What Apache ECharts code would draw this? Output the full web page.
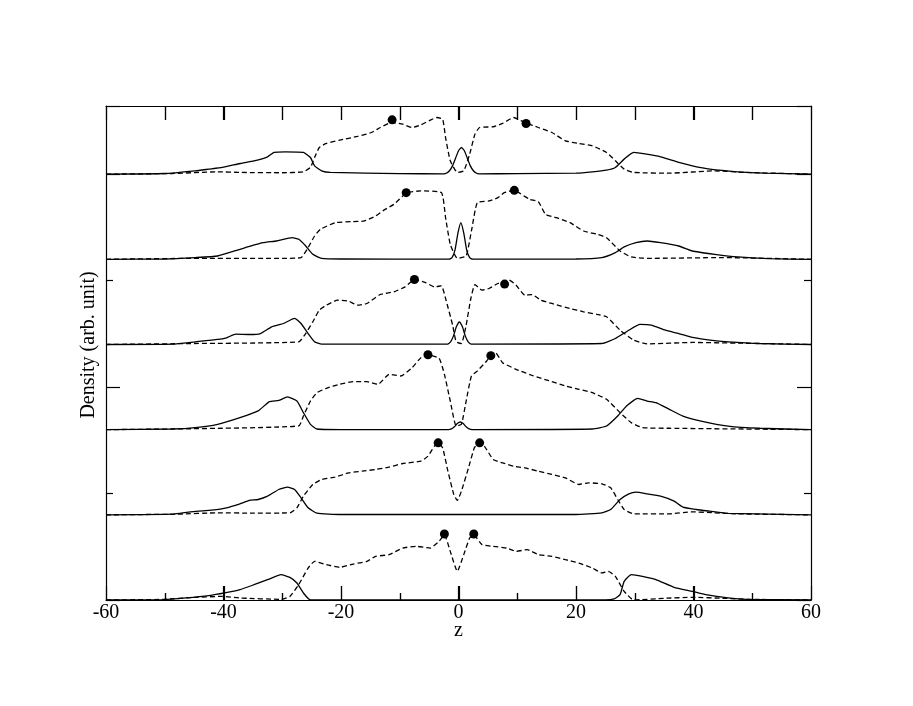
<!DOCTYPE html>
<html><head><meta charset="utf-8">
<script src="https://cdn.jsdelivr.net/npm/echarts@6/dist/echarts.min.js"></script>
<style>html,body{margin:0;padding:0;background:#fff}#c{width:913px;height:706px}</style>
</head><body><div id="c"></div>
<script>
// Panel offsets (top to bottom)
const offsets = [4.0, 3.2, 2.4, 1.6, 0.8, 0.0];

// Tick values of the z axis
const zMajorTicks = [-40, -20, 0, 20, 40];
const zMinorTicks = [-50, -30, -10, 10, 30, 50];
const zTopTicks = [-50, -40, -30, -20, -10, 0, 10, 20, 30, 40, 50];

// Solid curves [z, density]
const solid1 = [[-60,0],[-50,0.006],[-44.8,0.031],[-42.5,0.047],[-40.2,0.063],[-37.2,0.1],[-34.8,0.125],[-32.5,0.163],[-31.4,0.204],[-29.5,0.21],[-26.4,0.204],[-25.2,0.156],[-24.5,0.078],[-23.3,0.031],[-21.8,0.016],[-10,0.005],[-2.5,0.003],[-2,0.011],[-1.5,0.034],[-1,0.08],[-0.5,0.15],[0,0.22],[0.5,0.25],[1,0.22],[1.5,0.15],[2,0.08],[2.5,0.034],[3,0.011],[3.5,0.003],[10,0.005],[20,0.01],[22.8,0.022],[25.2,0.038],[26.7,0.063],[28.2,0.141],[29.8,0.204],[32,0.188],[34.4,0.163],[37.5,0.11],[39.8,0.078],[42.8,0.047],[47.5,0.022],[52,0.009],[60,0]];
const solid2 = [[-60,0],[-50,0.003],[-44.8,0.016],[-41,0.031],[-37.2,0.094],[-33.3,0.156],[-31,0.172],[-28.3,0.203],[-27.2,0.188],[-26,0.125],[-24.8,0.047],[-23.3,0.009],[-20,0.003],[-1.6,0.002],[-1.1,0.015],[-0.6,0.086],[-0.1,0.245],[0.4,0.344],[0.9,0.245],[1.4,0.086],[1.9,0.015],[2.4,0.002],[20,0.003],[24.4,0.016],[26.7,0.063],[28.2,0.116],[30.2,0.156],[32.1,0.172],[34.4,0.156],[37.5,0.125],[39.8,0.078],[43.6,0.047],[47.5,0.022],[52.8,0.006],[60,0]];
const solid3 = [[-60,0],[-48.7,0.003],[-44.8,0.025],[-41,0.047],[-39.5,0.063],[-37.9,0.097],[-35.6,0.094],[-33.7,0.103],[-31.8,0.166],[-29.8,0.197],[-27.9,0.245],[-26.8,0.197],[-25.6,0.103],[-24.5,0.025],[-23.3,0.003],[-1.85,0.004],[-1.35,0.024],[-0.85,0.081],[-0.35,0.168],[0.15,0.213],[0.65,0.168],[1.15,0.081],[1.65,0.024],[2.15,0.004],[24.4,0.009],[26.7,0.056],[29,0.134],[30.9,0.188],[32.8,0.182],[35.2,0.134],[37.5,0.103],[39.8,0.066],[42.8,0.041],[45.9,0.025],[51.3,0.009],[60,0]];
const solid4 = [[-60,0],[-48.7,0.006],[-44.8,0.019],[-41,0.05],[-37.2,0.113],[-34.1,0.176],[-32.2,0.263],[-30.6,0.275],[-29.1,0.307],[-27.5,0.269],[-26.4,0.16],[-25.2,0.05],[-24.1,0.006],[-20,0.001],[-1.7,0.001],[-1.2,0.008],[-0.7,0.027],[-0.2,0.057],[0.3,0.072],[0.8,0.057],[1.3,0.027],[1.8,0.008],[2.3,0.001],[22.8,0.006],[25.2,0.034],[27.1,0.128],[28.6,0.222],[30.5,0.294],[32.1,0.269],[33.6,0.254],[35.9,0.191],[38.2,0.128],[41.3,0.081],[45.9,0.034],[51.3,0.013],[60,0]];
const solid5 = [[-60,0],[-48.7,0.006],[-45.6,0.028],[-42.5,0.041],[-39.5,0.066],[-37.2,0.103],[-35.6,0.135],[-34.1,0.144],[-32.5,0.175],[-30.6,0.238],[-29.1,0.26],[-27.9,0.238],[-26.8,0.16],[-25.6,0.066],[-24.1,0.016],[-20,0.003],[20,0.003],[24.4,0.019],[25.9,0.05],[27.5,0.144],[29,0.197],[30.2,0.213],[32.1,0.197],[34.4,0.175],[36.7,0.128],[38.2,0.072],[40.5,0.05],[42.8,0.034],[45.9,0.013],[60,0]];
const solid6 = [[-60,0],[-50.2,0.003],[-46.4,0.019],[-42.5,0.041],[-39.8,0.066],[-37.2,0.097],[-34.8,0.144],[-32.5,0.191],[-30.2,0.238],[-28.7,0.213],[-27.5,0.16],[-26.4,0.066],[-25.2,0],[25,0],[26.5,0.01],[27.5,0.05],[28.2,0.175],[29.4,0.238],[31.3,0.222],[33.6,0.191],[36.7,0.119],[39.8,0.081],[42.1,0.05],[45.9,0.019],[49,0.006],[60,0]];

// Dashed curves [z, density]
const dashed1 = [[-60,0],[-48.7,0.006],[-41,0.022],[-37,0.016],[-30,0.013],[-26.4,0.022],[-25.2,0.063],[-24.5,0.156],[-23.7,0.25],[-22.5,0.288],[-20.2,0.319],[-17.2,0.354],[-14.8,0.391],[-13.3,0.438],[-11.4,0.485],[-9.5,0.469],[-7.9,0.438],[-6.4,0.463],[-4.8,0.507],[-3.7,0.532],[-2.7,0.516],[-2.2,0.344],[-1.4,0.125],[-0.2,0.016],[0.9,0.031],[1.9,0.188],[2.8,0.376],[3.6,0.438],[5.9,0.445],[7.5,0.476],[9.4,0.532],[11.3,0.485],[13.6,0.438],[15.9,0.391],[18.2,0.313],[20.5,0.288],[22.8,0.266],[25.2,0.204],[26.7,0.125],[28.2,0.047],[29.8,0.016],[35.9,0.009],[43.6,0.031],[49,0.016],[60,0]];
const dashed2 = [[-60,0],[-45,0.009],[-30,0.009],[-26.8,0.016],[-25.6,0.11],[-24.5,0.219],[-23.5,0.282],[-21,0.344],[-18.3,0.354],[-16,0.36],[-14.1,0.407],[-12.5,0.469],[-11,0.516],[-8.8,0.626],[-6.4,0.642],[-2.9,0.626],[-2.2,0.391],[-1.4,0.141],[-0.2,0.009],[1.3,0.031],[2.2,0.266],[3.2,0.532],[5.2,0.548],[6.7,0.579],[7.8,0.626],[9.4,0.648],[12.1,0.563],[13.6,0.541],[14.8,0.423],[16.7,0.391],[19,0.344],[21.3,0.266],[23.6,0.235],[25.2,0.203],[27.5,0.078],[29.4,0.022],[32.1,0.009],[45,0.016],[60,0]];
const dashed3 = [[-60,0],[-45,0.009],[-27.2,0.025],[-26,0.103],[-24.8,0.213],[-23.7,0.322],[-22.5,0.369],[-20.6,0.416],[-18.7,0.407],[-17.2,0.369],[-15.6,0.385],[-13.3,0.47],[-11,0.495],[-9.1,0.541],[-7.5,0.61],[-5.6,0.582],[-4.1,0.541],[-2.9,0.551],[-2.2,0.432],[-1,0.182],[-0.4,0.025],[0.5,0.009],[1.3,0.182],[2.1,0.432],[2.8,0.563],[4,0.51],[5.2,0.526],[6.7,0.573],[8.6,0.606],[9.8,0.557],[11.3,0.463],[12.5,0.469],[14,0.416],[15.9,0.385],[19,0.338],[21.3,0.307],[23.6,0.282],[25.2,0.26],[27.5,0.135],[29.8,0.041],[32.1,0.006],[39.8,0.019],[47.5,0.013],[60,0]];
const dashed4 = [[-60,0],[-45,0.009],[-27.2,0.035],[-26.4,0.128],[-25.2,0.269],[-24.1,0.347],[-22.5,0.388],[-20.2,0.426],[-17.9,0.451],[-15.6,0.451],[-13.7,0.426],[-11.8,0.52],[-9.8,0.504],[-7.9,0.582],[-6.4,0.676],[-5.2,0.701],[-3.3,0.67],[-2.4,0.52],[-1.4,0.269],[-0.4,0.034],[0.5,0.05],[1.3,0.269],[2.2,0.504],[3.2,0.551],[4.8,0.645],[5.5,0.701],[6.3,0.723],[7.5,0.629],[9.8,0.567],[12.8,0.504],[15.2,0.463],[18.2,0.41],[20.5,0.379],[22.8,0.347],[25.2,0.285],[27.5,0.16],[29.4,0.066],[31.3,0.019],[35.9,0.013],[60,0]];
const dashed5 = [[-60,0],[-48,0.006],[-41,0.019],[-35,0.016],[-28.7,0.019],[-27.5,0.066],[-26.4,0.175],[-24.8,0.285],[-23.3,0.332],[-21,0.354],[-18.7,0.394],[-16.4,0.41],[-14.1,0.426],[-11.8,0.448],[-9.5,0.482],[-6.4,0.504],[-5.2,0.551],[-4.1,0.645],[-3.5,0.676],[-2.7,0.629],[-1.8,0.41],[-0.8,0.191],[-0.2,0.135],[0.5,0.223],[1.7,0.441],[2.7,0.629],[3.5,0.676],[4.4,0.645],[5.9,0.52],[7.5,0.488],[9.4,0.457],[11.3,0.441],[13.6,0.41],[15.9,0.379],[18.2,0.347],[20.5,0.285],[22.1,0.301],[24.4,0.291],[25.9,0.254],[27.1,0.144],[28.2,0.05],[29.8,0.009],[35.9,0.009],[39.8,0.028],[43.6,0.019],[47.5,0.009],[60,0]];
const dashed6 = [[-60,0],[-50.2,0.006],[-44.8,0.025],[-40.2,0.034],[-37.2,0.019],[-30.2,0.006],[-28.7,0.034],[-27.2,0.144],[-25.6,0.3],[-24.5,0.363],[-22.5,0.332],[-20.2,0.307],[-17.9,0.338],[-15.6,0.363],[-14.1,0.41],[-11.8,0.426],[-9.5,0.488],[-7.2,0.504],[-4.8,0.488],[-3.3,0.551],[-2.4,0.613],[-1.4,0.457],[-0.2,0.269],[0.9,0.426],[1.9,0.582],[2.6,0.613],[4,0.52],[5.9,0.504],[8.2,0.488],[9.8,0.457],[11.7,0.473],[13.6,0.426],[15.9,0.41],[18.2,0.379],[20.5,0.347],[22.8,0.3],[24.4,0.254],[25.5,0.269],[26.7,0.222],[28.2,0.081],[29.8,0],[35,0.016],[40,0.025],[45,0.016],[50,0.006],[60,0]];

// Marked peaks [z, density]
const dots1 = [[-11.3,0.51],[11.5,0.476]];
const dots2 = [[-8.9,0.626],[9.5,0.648]];
const dots3 = [[-7.5,0.61],[7.85,0.567]];
const dots4 = [[-5.2,0.704],[5.5,0.695]];
const dots5 = [[-3.46,0.676],[3.6,0.676]];
const dots6 = [[-2.4,0.62],[2.6,0.62]];

const panels = [
  [solid1, dashed1, dots1],[solid2, dashed2, dots2],[solid3, dashed3, dots3],
  [solid4, dashed4, dots4],[solid5, dashed5, dots5],[solid6, dashed6, dots6]
];

const Y_MAX = 4.64;
const FONT = 'Liberation Serif';
const series = [];
panels.forEach((p, i) => {
  const off = offsets[i];
  const shift = arr => arr.map(d => [d[0], d[1] + off]);
  series.push({type:'line', data: shift(p[0]), showSymbol:false, smooth:0.15, silent:true,
    lineStyle:{color:'#000', width:1.3}});
  series.push({type:'line', data: shift(p[1]), showSymbol:false, smooth:0.15, silent:true,
    lineStyle:{color:'#000', width:1.3, type:[5,3]}});
  series.push({type:'scatter', data: shift(p[2]), symbol:'circle', symbolSize:9, silent:true,
    itemStyle:{color:'#000', opacity:1}});
});

const chart = echarts.init(document.getElementById('c'));
const mkLine = () => ({show:true, onZero:false, lineStyle:{color:'#000', width:1.2}});
const mkTick = (len) => ({show:true, inside:true, length:len, lineStyle:{color:'#000', width:1.2}});
const mkMinor = () => ({show:true, splitNumber:2, length:7, lineStyle:{color:'#000', width:1.2}});
const yLabel = {type:'text', x:89, y:345, rotation:Math.PI/2,
  style:{text:'Density (arb. unit)', fill:'#000', font:'20px "Liberation Serif"',
    textAlign:'center', textVerticalAlign:'middle'}};

chart.setOption({
  animation:false,
  grid:{left:106, right:102, top:106, bottom:106},
  xAxis:[
    {type:'value', position:'bottom', min:-60, max:60, interval:20,
     axisLine:mkLine(), axisTick:mkTick(14), minorTick:mkMinor(), splitLine:{show:false},
     axisLabel:{margin:3, color:'#000', fontFamily:FONT, fontSize:20},
     name:'z', nameLocation:'middle', nameGap:21, nameMoveOverlap:false,
     nameTextStyle:{color:'#000', fontFamily:FONT, fontSize:20}},
    {type:'value', position:'top', min:-60, max:60, interval:10,
     axisLine:mkLine(), axisTick:mkTick(14), splitLine:{show:false}, axisLabel:{show:false}}
  ],
  yAxis:[
    {type:'value', position:'left', min:0, max:Y_MAX, interval:2,
     axisLine:mkLine(), axisTick:mkTick(14), minorTick:mkMinor(), splitLine:{show:false}, axisLabel:{show:false}},
    {type:'value', position:'right', min:0, max:Y_MAX, interval:2,
     axisLine:mkLine(), axisTick:mkTick(14), minorTick:mkMinor(), splitLine:{show:false}, axisLabel:{show:false}}
  ],
  graphic:[yLabel],
  series: series
});

// z-axis tick marks placed through the chart's own scale (convertToPixel)
const tickEls = [];
function addTicks(values, atTop, len) {
  values.forEach(v => {
    const p = chart.convertToPixel({xAxisIndex:0, yAxisIndex:0}, [v, atTop ? Y_MAX : 0]);
    if (!p) return;
    const x = Math.round(p[0]) + 0.5;
    tickEls.push({type:'line', z:100, silent:true,
      shape:{x1:x, y1:p[1], x2:x, y2:p[1] + (atTop ? len : -len)},
      style:{stroke:'#000', lineWidth:1.2}});
  });
}
addTicks(zTopTicks, true, 14);
addTicks(zMajorTicks, false, 14);
addTicks(zMinorTicks, false, 7);
chart.setOption({graphic:[yLabel].concat(tickEls)});
</script>
</body></html>
